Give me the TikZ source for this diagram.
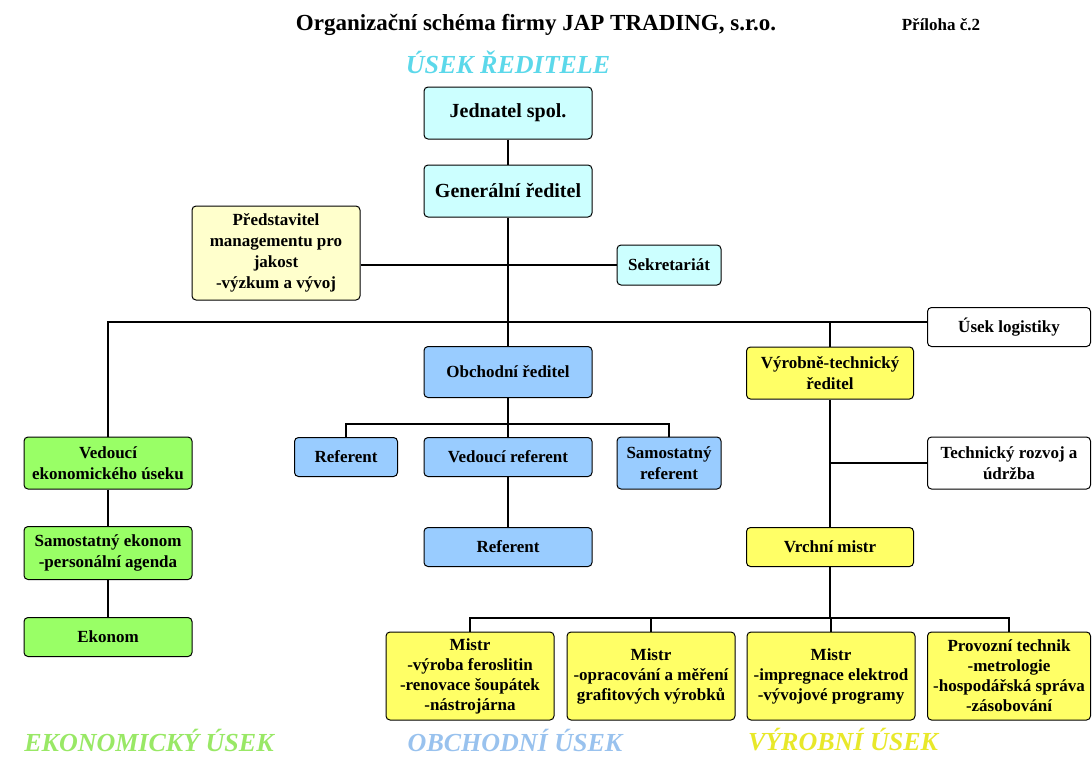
\documentclass[tikz,border=0pt]{standalone}
\usepackage{fontspec}
\setmainfont{Liberation Serif}

\definecolor{boxcyan}{HTML}{CCFFFF}
\definecolor{boxcream}{HTML}{FFFFCC}
\definecolor{boxblue}{HTML}{99CCFF}
\definecolor{boxgreen}{HTML}{99FF66}
\definecolor{boxyellow}{HTML}{FFFF66}
\definecolor{labcyan}{HTML}{5CD8EA}
\definecolor{labgreen}{HTML}{99E866}
\definecolor{labblue}{HTML}{99C2EE}
\definecolor{labyellow}{HTML}{E8E82A}

\tikzset{
  unit/.style={draw, rounded corners=4pt, line width=1pt, align=center, inner sep=2pt,
    font=\bfseries\fontsize{17}{21}\selectfont},
  topunit/.style={unit, fill=boxcyan, minimum width=168pt, minimum height=52pt,
    font=\bfseries\fontsize{20}{24}\selectfont},
  ecounit/.style={unit, fill=boxgreen, minimum width=168pt},
  salesunit/.style={unit, fill=boxblue},
  produnit/.style={unit, fill=boxyellow},
  mistrunit/.style={produnit, minimum height=88pt, font=\bfseries\fontsize{17}{20}\selectfont},
  link/.style={line width=1.1pt},
  sectlabel/.style={inner sep=0pt, font=\bfseries\itshape\fontsize{26}{28}\selectfont}
}

\begin{document}
\begin{tikzpicture}[x=1pt,y=-1pt]
    \useasboundingbox (0,0) rectangle (1092,758);
    % Headings
    \node (title) at (536,25) [font=\bfseries\fontsize{23}{27}\selectfont] {Organizační schéma firmy JAP TRADING, s.r.o.};
    \node (appendix) at (941,25) [font=\bfseries\fontsize{17}{20}\selectfont] {Příloha č.2};
    \node (dirlabel) at (508,62) [sectlabel, text=labcyan] {ÚSEK ŘEDITELE};
    % Management
    \node (jed) at (508,113) [topunit] {Jednatel spol.};
    \node (gen) at (508,191) [topunit] {Generální ředitel};
    \node (pred) at (276,253) [unit, fill=boxcream, minimum width=168pt, minimum height=94pt] {Představitel\\managementu pro\\jakost\\-výzkum a vývoj};
    \node (sekr) at (669,265) [unit, fill=boxcyan, minimum width=104pt, minimum height=40pt] {Sekretariát};
    \node (logist) at (1009,327) [unit, fill=white, minimum width=163pt, minimum height=39pt] {Úsek logistiky};
    % Economic section
    \node (ved) at (108,463) [ecounit, minimum height=52pt] {Vedoucí\\ekonomického úseku};
    \node (samekon) at (108,553) [ecounit, minimum height=53pt] {Samostatný ekonom\\-personální agenda};
    \node (ekonom) at (108,637) [ecounit, minimum height=39pt] {Ekonom};
    % Sales section
    \node (obch) at (508,372) [salesunit, minimum width=168pt, minimum height=51pt] {Obchodní ředitel};
    \node (ref1) at (346,457) [salesunit, minimum width=103pt, minimum height=39pt] {Referent};
    \node (vedref) at (508,457) [salesunit, minimum width=168pt, minimum height=39pt] {Vedoucí referent};
    \node (samref) at (669,463) [salesunit, minimum width=104pt, minimum height=52pt] {Samostatný\\referent};
    \node (ref2) at (508,547) [salesunit, minimum width=168pt, minimum height=39pt] {Referent};
    % Production section
    \node (vyr) at (830,373) [produnit, minimum width=167pt, minimum height=52pt] {Výrobně-technický\\ředitel};
    \node (tech) at (1009,463) [unit, fill=white, minimum width=163pt, minimum height=52pt] {Technický rozvoj a\\údržba};
    \node (vrchni) at (830,547) [produnit, minimum width=167pt, minimum height=39pt] {Vrchní mistr};
    \node (m1) at (470,676) [mistrunit, minimum width=168pt] {Mistr\\-výroba feroslitin\\-renovace šoupátek\\-nástrojárna};
    \node (m2) at (651,676) [mistrunit, minimum width=168pt] {Mistr\\-opracování a měření\\grafitových výrobků};
    \node (m3) at (831,676) [mistrunit, minimum width=168pt] {Mistr\\-impregnace elektrod\\-vývojové programy};
    \node (m4) at (1009,676) [mistrunit, minimum width=163pt] {Provozní technik\\-metrologie\\-hospodářská správa\\-zásobování};
    % Section labels
    \node (ecolabel) at (149,740) [sectlabel, text=labgreen] {EKONOMICKÝ ÚSEK};
    \node (saleslabel) at (515,740) [sectlabel, text=labblue] {OBCHODNÍ ÚSEK};
    \node (prodlabel) at (843,740) [sectlabel, text=labyellow] {VÝROBNÍ ÚSEK};
    % Connectors
    \coordinate (bus) at (508,322);
    \coordinate (obus) at (508,424);
    \coordinate (mbus) at (830,618);
    \draw [link] (jed) -- (gen);
    \draw [link] (gen) -- (obch);
    \draw [link] (pred.east |- sekr.west) -- (sekr.west);
    \draw [link] (ved.north) |- (bus) -- (bus -| logist.west);
    \draw [link] (vyr.north) -- (vyr.north |- bus);
    \draw [link] (ved) -- (samekon); \draw [link] (samekon) -- (ekonom);
    \draw [link] (obch) -- (vedref); \draw [link] (vedref) -- (ref2);
    \draw [link] (ref1.north) |- (obus) -| (samref.north);
    \draw [link] (vyr) -- (vrchni);
    \draw [link] (tech.west) -- (tech.west -| vyr.south);
    \draw [link] (vrchni) -- (mbus);
    \draw [link] (m1.north) |- (mbus) -| (m4.north);
    \foreach \m in {m2,m3}
        \draw [link] (\m.north) -- (\m.north |- mbus);
\end{tikzpicture}
\end{document}
